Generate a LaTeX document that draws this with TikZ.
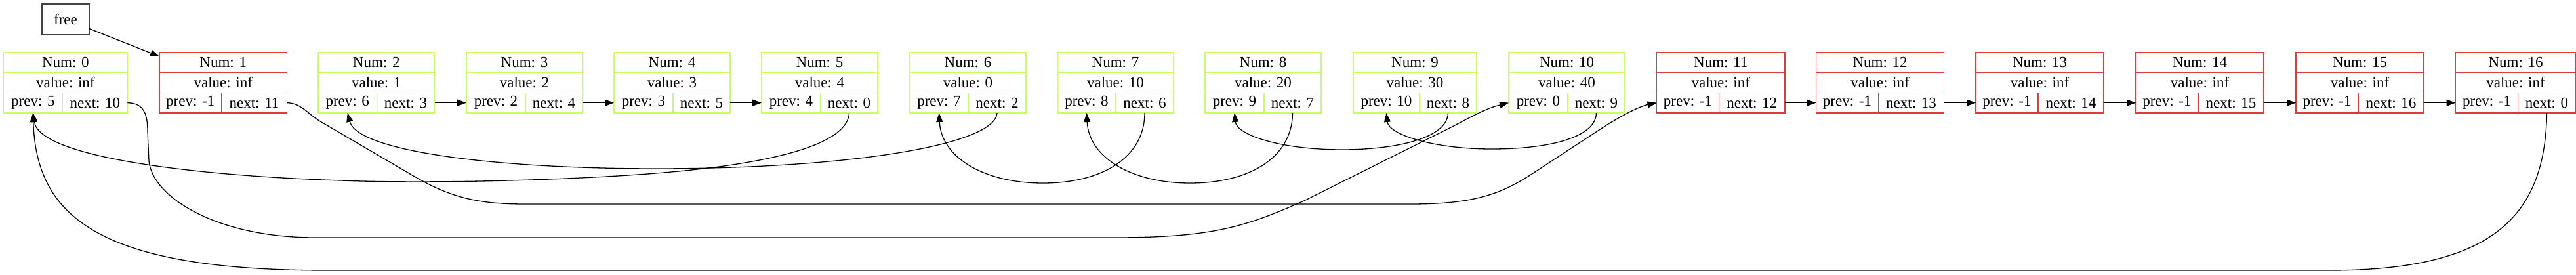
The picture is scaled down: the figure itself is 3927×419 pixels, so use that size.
\documentclass[tikz,border=0pt]{standalone}
\usepackage{fontspec}
\setmainfont{Liberation Serif}
\usetikzlibrary{arrows.meta,calc}
\definecolor{recgreen}{HTML}{C8FF60}
\definecolor{recred}{HTML}{DE3C3C}
\definecolor{freegray}{HTML}{444444}
\newcommand\recnode[9]{%
  \pgfmathsetmacro\rW{#3+#4}%
  \pgfmathsetmacro\rCx{#2+\rW/2}%
  \pgfmathsetmacro\rPx{#2+#3/2}%
  \pgfmathsetmacro\rNx{#2+#3+#4/2}%
  \node[cellbox,draw=#9,minimum width=\rW pt] (#1num) at (\rCx,95.33) {Num: #5};
  \node[cellbox,draw=#9,minimum width=\rW pt] (#1val) at (\rCx,126) {value: #6};
  \node[cellbox,draw=#9,minimum width=#3 pt] (#1prev) at (\rPx,156.67) {prev: #7};
  \node[cellbox,draw=#9,minimum width=#4 pt] (#1next) at (\rNx,156.67) {next: #8};
  \draw[draw=#9,line width=1.8pt] (#1num.north west) rectangle (#1next.south east);
}
\begin{document}
\begin{tikzpicture}[x=1pt,y=-1pt,
  cellbox/.style={minimum height=30.67pt,inner sep=0pt,outer sep=0pt,line width=1.3pt,
    font=\fontsize{23}{27}\selectfont},
  freebox/.style={draw=freegray,line width=2pt,minimum width=72pt,minimum height=47pt,
    inner sep=0pt,outer sep=0pt,font=\fontsize{23}{27}\selectfont},
  arr/.style={line width=1.3pt,-{Triangle[length=14pt,width=10pt]}}]
\useasboundingbox (0,0) rectangle (3927,419);

\node[freebox] (free) at (100,29.3) {free};

\recnode{n0}{5.4}{90}{99}{0}{inf}{5}{10}{recgreen}
\recnode{n1}{243}{94.5}{100}{1}{inf}{-1}{11}{recred}
\recnode{n2}{485}{89.5}{88}{2}{1}{6}{3}{recgreen}
\recnode{n3}{711}{90}{87}{3}{2}{2}{4}{recgreen}
\recnode{n4}{936}{90}{87}{4}{3}{3}{5}{recgreen}
\recnode{n5}{1161}{90}{87}{5}{4}{4}{0}{recgreen}
\recnode{n6}{1387}{89}{88}{6}{0}{7}{2}{recgreen}
\recnode{n7}{1612}{89}{88}{7}{10}{8}{6}{recgreen}
\recnode{n8}{1837}{90}{87}{8}{20}{9}{7}{recgreen}
\recnode{n9}{2063}{101}{87}{9}{30}{10}{8}{recgreen}
\recnode{n10}{2300}{90}{87}{10}{40}{0}{9}{recgreen}
\recnode{n11}{2525.5}{95}{100.5}{11}{inf}{-1}{12}{recred}
\recnode{n12}{2768.5}{95}{100}{12}{inf}{-1}{13}{recred}
\recnode{n13}{3012}{95}{100}{13}{inf}{-1}{14}{recred}
\recnode{n14}{3256}{95}{100}{14}{inf}{-1}{15}{recred}
\recnode{n15}{3500}{95}{100}{15}{inf}{-1}{16}{recred}
\recnode{n16}{3743.5}{95}{88}{16}{inf}{-1}{0}{recred}

% free pointer
\draw[arr] (free) -- ($(n1num.north west)+(0,6)$);

% straight next arrows
\draw[arr] (n2next.east) -- (n3prev.west);
\draw[arr] (n3next.east) -- (n4prev.west);
\draw[arr] (n4next.east) -- (n5prev.west);
\draw[arr] (n11next.east) -- (n12prev.west);
\draw[arr] (n12next.east) -- (n13prev.west);
\draw[arr] (n13next.east) -- (n14prev.west);
\draw[arr] (n14next.east) -- (n15prev.west);
\draw[arr] (n15next.east) -- (n16prev.west);

% 5 -> 0
\draw[arr] (n5next.south) .. controls (1293,215) and (1200,248) .. (1000,264)
  .. controls (860,275) and (650,280) .. (520,275)
  .. controls (300,268) and (60,240) .. (n0prev.south);
% 6 -> 2
\draw[arr] (n6next.south) .. controls (1518,220) and (1300,257) .. (1000,257)
  .. controls (750,257) and (545,230) .. (n2prev.south);
% 7 -> 6
\draw[arr] (n7next.south) .. controls (1745,240) and (1680,279) .. (1590,279)
  .. controls (1500,279) and (1435,240) .. (n6prev.south);
% 8 -> 7
\draw[arr] (n8next.south) .. controls (1970,240) and (1905,279) .. (1814,279)
  .. controls (1725,279) and (1660,240) .. (n7prev.south);
% 9 -> 8
\draw[arr] (n9next.south) .. controls (2207,210) and (2130,228) .. (2046,228)
  .. controls (1950,228) and (1885,205) .. (n8prev.south);
% 10 -> 9
\draw[arr] (n10next.south) .. controls (2433,210) and (2360,227) .. (2274,227)
  .. controls (2185,227) and (2117,205) .. (n9prev.south);
% 0 -> 10
\draw[arr] (n0next.east) .. controls (220,157) and (225,175) .. (225,200)
  -- (227,245) .. controls (232,300) and (330,362) .. (480,362)
  -- (1700,362) .. controls (1850,362) and (1900,345) .. (1990,305)
  -- (2200,200) .. controls (2240,180) and (2262,166) .. (n10prev.west);
% 1 -> 11
\draw[arr] (n1next.east) .. controls (460,157) and (470,175) .. (490,186)
  -- (620,262) .. controls (680,298) and (720,311) .. (800,311)
  -- (2150,311) .. controls (2250,311) and (2290,295) .. (2340,262)
  -- (2450,190) .. controls (2480,172) and (2500,162) .. (n11prev.west);
% 16 -> 0
\draw[arr] (n16next.south) .. controls (3880,330) and (3800,412) .. (3550,412)
  -- (500,412) .. controls (150,412) and (55,330) .. (n0prev.south);
\end{tikzpicture}
\end{document}
